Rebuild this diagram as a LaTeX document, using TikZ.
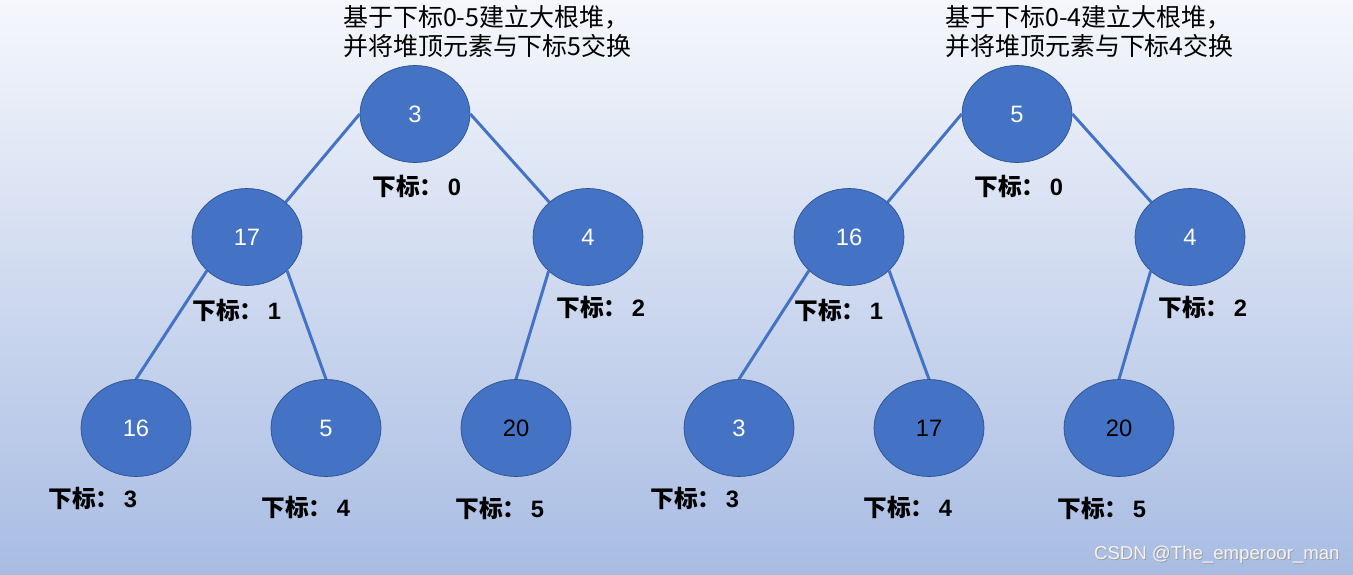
\documentclass[tikz,border=0pt]{standalone}
\usepackage{fontspec}
\setmainfont{Liberation Sans}
\newfontfamily\cjk{Noto Sans CJK SC}
\usetikzlibrary{shapes.geometric}
\definecolor{heapblue}{HTML}{4472C4}
\definecolor{heapline}{HTML}{2F528F}
\definecolor{bgtop}{RGB}{245,247,252}
\definecolor{bgbot}{RGB}{168,188,227}
\tikzset{hnode/.style={ellipse,draw=heapline,fill=heapblue,minimum width=2.2cm,minimum height=1.94cm,
    inner sep=0pt,font=\fontsize{13.5}{15}\selectfont,text=white},
  hot/.style={hnode,text=black},
  idx/.style={anchor=west,inner sep=0pt,font=\bfseries\fontsize{13.5}{15}\selectfont},
  ttl/.style={anchor=north west,align=left,inner sep=0pt,font=\cjk\fontsize{14.2}{16.5}\selectfont},
  wmark/.style={anchor=east,inner sep=0pt,font=\fontsize{10.6}{12}\selectfont},
  link/.style={heapblue,line width=1.7pt}}

\begin{document}
\begin{tikzpicture}[x=0.02cm,y=-0.02cm]
\shade[top color=bgtop,bottom color=bgbot] (0,0) rectangle (1353,575);
% left heap: 0-5
\node[ttl] (t1) at (343,5) {基于下标0-5建立大根堆，\\并将堆顶元素与下标5交换};
\node[hnode] (a0) at (415,114) {3};
\node[hnode] (a1) at (247,237) {17};
\node[hnode] (a2) at (588,237) {4};
\node[hnode] (a3) at (136,428) {16};
\node[hnode] (a4) at (326,428) {5};
\node[hot] (a5) at (516,428) {20};
\draw[link] (a0.180) -- (a1.42);
\draw[link] (a0.0) -- (a2.138);
\draw[link] (a1.220) -- (a3.90);
\draw[link] (a1.320) -- (a4.90);
\draw[link] (a2.221) -- (a5.90);
% right heap: 0-4
\node[ttl] (t2) at (945,5) {基于下标0-4建立大根堆，\\并将堆顶元素与下标4交换};
\node[hnode] (b0) at (1017,114) {5};
\node[hnode] (b1) at (849,237) {16};
\node[hnode] (b2) at (1190,237) {4};
\node[hnode] (b3) at (739,428) {3};
\node[hot] (b4) at (929,428) {17};
\node[hot] (b5) at (1119,428) {20};
\draw[link] (b0.180) -- (b1.42);
\draw[link] (b0.0) -- (b2.138);
\draw[link] (b1.220) -- (b3.90);
\draw[link] (b1.320) -- (b4.90);
\draw[link] (b2.221) -- (b5.90);
% index labels
\foreach \i/\x/\y in {0/372/186,1/192/310,2/556/307,3/48/498,4/261/507,5/455/508}{
  \node[idx] (ai\i) at (\x,\y) {{\cjk 下标：}\hspace{2.5pt}\i};
  \node[idx] (bi\i) at (\x+602,\y) {{\cjk 下标：}\hspace{2.5pt}\i};}
\node[wmark,text=gray!75] (wms) at (1341,556) {CSDN @The\_emperoor\_man};
\node[wmark,text=white!90!gray] (wm) at (1340,555) {CSDN @The\_emperoor\_man};
\end{tikzpicture}
\end{document}
